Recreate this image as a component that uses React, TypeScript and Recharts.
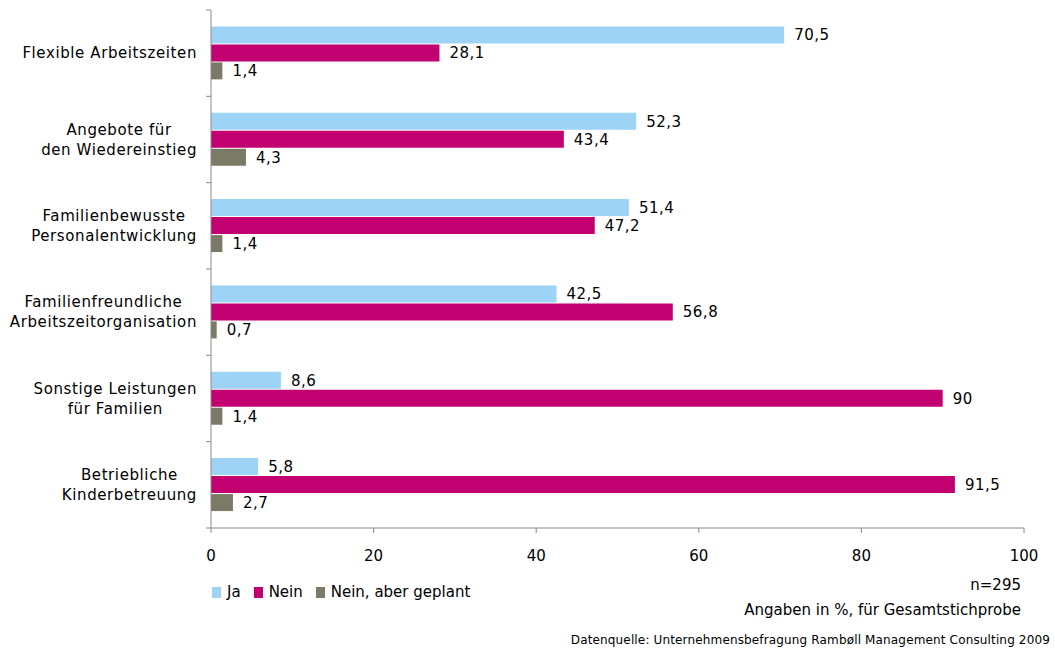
import { Bar, BarChart, LabelList, XAxis, YAxis } from "recharts";

const categories = [
	["Flexible Arbeitszeiten"],
	["Angebote für", "den Wiedereinstieg"],
	["Familienbewusste", "Personalentwicklung"],
	["Familienfreundliche", "Arbeitszeitorganisation"],
	["Sonstige Leistungen", "für Familien"],
	["Betriebliche", "Kinderbetreuung"],
];
const ja = [70.5, 52.3, 51.4, 42.5, 8.6, 5.8];
const nein = [28.1, 43.4, 47.2, 56.8, 90, 91.5];
const geplant = [1.4, 4.3, 1.4, 0.7, 1.4, 2.7];
const xTicks = [0, 20, 40, 60, 80, 100];

const seriesNames = ["Ja", "Nein", "Nein, aber geplant"];
const colors = ["#9dd3f4", "#c3006f", "#7b7a67"];

const FONT = "DejaVu Sans, Verdana, sans-serif";
const AXIS = "#8a8a8a";
const SPACING = 0.6;

const W = 1055;
const H = 651;
const TOP = 10;
const PLOT_LEFT = 211;
const PLOT_BOTTOM = 528;
const BAND = (PLOT_BOTTOM - TOP) / categories.length;

let ctx: CanvasRenderingContext2D | null = null;
function textWidth(s: string) {
	if (!ctx) ctx = document.createElement("canvas").getContext("2d");
	if (!ctx) return s.length * 8.5;
	ctx.font = `15px ${FONT}`;
	return ctx.measureText(s).width + s.length * SPACING;
}

const data = categories.map((lines, i) => ({
	name: lines.join("\n"),
	ja: ja[i],
	nein: nein[i],
	geplant: geplant[i],
}));

const fmt = (v: any) => String(v).replace(".", ",");

function CategoryTick(props: any) {
	const { y, payload, index } = props;
	const lines: string[] = String(payload.value).split("\n");
	const maxW = Math.max(...lines.map(textWidth));
	const cx = PLOT_LEFT - 14 - maxW / 2;
	const startY = y - ((lines.length - 1) * 20) / 2;
	return (
		<g>
			<line x1={PLOT_LEFT - 5} x2={PLOT_LEFT} y1={y - BAND / 2} y2={y - BAND / 2} stroke={AXIS} />
			{index === categories.length - 1 ? (
				<line x1={PLOT_LEFT - 5} x2={PLOT_LEFT} y1={y + BAND / 2} y2={y + BAND / 2} stroke={AXIS} />
			) : null}
			<text textAnchor="middle" fontFamily={FONT} fontSize={15} fill="#000" letterSpacing={SPACING}>
				{lines.map((l, i) => (
					<tspan key={i} x={cx} y={startY + i * 20} dy={5}>
						{l}
					</tspan>
				))}
			</text>
		</g>
	);
}

export default function App() {
	return (
		<div style={{ position: "absolute", left: 0, top: 0, width: W, height: H, background: "#fff" }}>
			<BarChart
				width={W}
				height={H}
				data={data}
				layout="vertical"
				margin={{ top: TOP, right: 31, left: 0, bottom: H - PLOT_BOTTOM - 30 }}
				barCategoryGap="19%"
				barGap={1}
			>
				<XAxis
					type="number"
					domain={[0, 100]}
					ticks={xTicks}
					height={30}
					stroke={AXIS}
					tickSize={5}
					tick={{ fontFamily: FONT, fontSize: 15, fill: "#000", dy: 15 }}
					interval={0}
				/>
				<YAxis
					type="category"
					dataKey="name"
					width={PLOT_LEFT}
					stroke={AXIS}
					tickLine={false}
					tick={<CategoryTick />}
					interval={0}
				/>
				{(["ja", "nein", "geplant"] as const).map((k, i) => (
					<Bar key={k} dataKey={k} name={seriesNames[i]} fill={colors[i]} isAnimationActive={false}>
						<LabelList
							dataKey={k}
							position="right"
							offset={10}
							formatter={fmt}
							style={{ fontFamily: FONT, fontSize: 15, fill: "#000", letterSpacing: 0.5 }}
						/>
					</Bar>
				))}
			</BarChart>
			<div
				style={{
					position: "absolute",
					left: 212,
					top: 583,
					display: "flex",
					fontFamily: FONT,
					fontSize: 15,
					color: "#000",
				}}
			>
				{seriesNames.map((n, i) => (
					<div key={n} style={{ display: "flex", alignItems: "center", marginRight: 13 }}>
						<span style={{ width: 9, height: 11, background: colors[i], marginRight: 6, display: "inline-block" }} />
						{n}
					</div>
				))}
			</div>
			<div
				style={{
					position: "absolute",
					right: 34,
					top: 573,
					textAlign: "right",
					fontFamily: FONT,
					fontSize: 15,
					lineHeight: "25px",
					color: "#000",
				}}
			>
				<div>n=295</div>
				<div>Angaben in %, für Gesamtstichprobe</div>
			</div>
			<div
				style={{
					position: "absolute",
					right: 5,
					top: 633,
					fontFamily: FONT,
					fontSize: 12,
					letterSpacing: 0.15,
					color: "#000",
				}}
			>
				Datenquelle: Unternehmensbefragung Rambøll Management Consulting 2009
			</div>
		</div>
	);
}
